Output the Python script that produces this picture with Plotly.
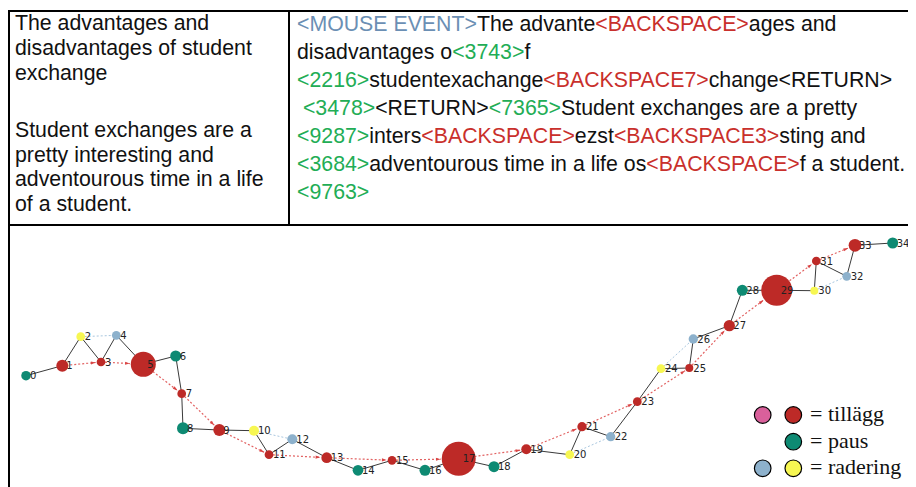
import math
import plotly.graph_objects as go

# ------------------------------------------------------------------ data
# left cell of the table (final text)
left_lines = [
    "The advantages and",
    "disadvantages of student",
    "exchange",
    "Student exchanges are a",
    "pretty interesting and",
    "adventourous time in a life",
    "of a student.",
]

# right cell of the table (keystroke log) : (text, kind)
log_line1 = [("<MOUSE EVENT>", "mouse"), ("The advante", "txt"), ("<BACKSPACE>", "del"), ("ages and", "txt")]
log_line2 = [("disadvantages o", "txt"), ("<3743>", "pause"), ("f", "txt")]
log_line3 = [("<2216>", "pause"), ("studentexachange", "txt"), ("<BACKSPACE7>", "del"), ("change<RETURN>", "txt")]
log_line4 = [("\u00a0", "txt"), ("<3478>", "pause"), ("<RETURN>", "txt"), ("<7365>", "pause"),
             ("Student exchanges are a pretty", "txt")]
log_line5 = [("<9287>", "pause"), ("inters", "txt"), ("<BACKSPACE>", "del"), ("ezst", "txt"),
             ("<BACKSPACE3>", "del"), ("sting and", "txt")]
log_line6 = [("<3684>", "pause"), ("adventourous time in a life os", "txt"), ("<BACKSPACE>", "del"),
             ("f a student.", "txt")]
log_line7 = [("<9763>", "pause")]
log_lines = [log_line1, log_line2, log_line3, log_line4, log_line5, log_line6, log_line7]

# process graph
node_id = list(range(35))
node_type = ["paus", "tillägg", "radering_y", "tillägg", "radering_b", "tillägg", "paus",
             "tillägg", "paus", "tillägg", "radering_y", "tillägg", "radering_b", "tillägg",
             "paus", "tillägg", "paus", "tillägg", "paus", "tillägg", "radering_y", "tillägg",
             "radering_b", "tillägg", "radering_y", "tillägg", "radering_b", "tillägg", "paus",
             "tillägg", "radering_y", "tillägg", "radering_b", "tillägg", "paus"]
node_x = [26.0, 62.3, 80.7, 101.0, 116.3, 143.3, 175.7, 181.7, 183.0, 219.3, 254.0, 269.0,
          292.3, 326.7, 358.0, 392.0, 425.0, 458.7, 494.0, 526.3, 569.7, 582.0, 610.7, 637.3,
          661.0, 689.3, 693.3, 729.3, 742.3, 776.7, 814.3, 816.3, 846.7, 855.0, 892.7]
node_y = [375.7, 365.7, 336.7, 362.0, 335.3, 364.3, 356.0, 393.7, 428.3, 430.0, 430.7, 454.7,
          439.3, 457.7, 470.3, 460.3, 470.3, 458.7, 466.7, 449.3, 454.7, 426.7, 436.7, 401.7,
          368.7, 368.0, 339.0, 325.7, 290.3, 290.3, 290.7, 261.0, 276.3, 245.3, 243.0]
node_weight = [9.5, 12, 8.7, 8.7, 8.7, 25, 11, 8.7, 12, 12, 10, 8.7, 10, 10.7, 10.7, 8.7, 11,
               34, 11, 10, 8.7, 9.3, 9.3, 8.7, 8.7, 8, 9.3, 11.3, 11, 31, 8, 8.7, 8.7, 12.7, 11]

seq_edges = [(0, 1), (1, 2), (2, 3), (3, 4), (4, 5), (5, 6), (6, 7), (7, 8), (8, 9), (9, 10),
             (10, 11), (11, 12), (12, 13), (13, 14), (14, 15), (15, 16), (16, 17), (17, 18),
             (18, 19), (19, 20), (20, 21), (21, 22), (22, 23), (23, 24), (24, 25), (25, 26),
             (26, 27), (27, 28), (28, 29), (29, 30), (30, 31), (31, 32), (32, 33), (33, 34)]
insert_edges = [(1, 3), (3, 5), (5, 7), (7, 9), (9, 11), (11, 13), (13, 15), (15, 17),
                (17, 19), (19, 21), (21, 23), (23, 25), (25, 27), (27, 29), (29, 31), (31, 33)]
delete_edges = [(2, 4), (10, 12), (20, 22), (24, 26), (30, 32)]

legend_labels = ["= tillägg", "= paus", "= radering"]

# ------------------------------------------------------------------ style
W, H = 916, 487
PAGE_MARGIN = 8  # default body margin of the page; compensate so content lands at window pixels
TYPE_COLOR = {"tillägg": "#bd2a27", "paus": "#0e8a73",
              "radering_b": "#8db1cc", "radering_y": "#f7f752"}
KIND_COLOR = {"mouse": "#6b8fb4", "txt": "#111111", "pause": "#22ad55", "del": "#c9302c"}
SANS = "Liberation Sans, Arial, sans-serif"
FS = 21.3


def esc(s):
    return s.replace("&", "&amp;").replace("<", "&lt;").replace(">", "&gt;")


fig = go.Figure()

# plain sequence edges
ex, ey = [], []
for a, b in seq_edges:
    ex += [node_x[a], node_x[b], None]
    ey += [node_y[a], node_y[b], None]
fig.add_trace(go.Scatter(x=ex, y=ey, mode="lines", line=dict(color="#3a3a3a", width=1),
                         hoverinfo="skip", showlegend=False))

# deletion edges (light blue dotted)
dx_, dy_ = [], []
for a, b in delete_edges:
    dx_ += [node_x[a], node_x[b], None]
    dy_ += [node_y[a], node_y[b], None]
fig.add_trace(go.Scatter(x=dx_, y=dy_, mode="lines",
                         line=dict(color="#a9c7df", width=1, dash="2px,2px"),
                         hoverinfo="skip", showlegend=False))

# insertion edges (red dotted arrows)
ix, iy, hx, hy, hang = [], [], [], [], []
for a, b in insert_edges:
    x0, y0, x1, y1 = node_x[a], node_y[a], node_x[b], node_y[b]
    L = math.hypot(x1 - x0, y1 - y0)
    ux, uy = (x1 - x0) / L, (y1 - y0) / L
    rb = node_weight[b] / 2 + 1
    tx, ty = x1 - ux * rb, y1 - uy * rb
    ix += [x0, tx, None]
    iy += [y0, ty, None]
    hx.append(tx)
    hy.append(ty)
    hang.append(math.degrees(math.atan2(ux, -uy)))
fig.add_trace(go.Scatter(x=ix, y=iy, mode="lines",
                         line=dict(color="#e26262", width=1.2, dash="2px,2px"),
                         hoverinfo="skip", showlegend=False))
fig.add_trace(go.Scatter(x=hx, y=hy, mode="markers",
                         marker=dict(symbol="arrow", size=5, angle=hang, color="#d94545",
                                     line=dict(width=0)),
                         hoverinfo="skip", showlegend=False))

# nodes
fig.add_trace(go.Scatter(x=node_x, y=node_y, mode="markers",
                         marker=dict(size=node_weight, color=[TYPE_COLOR[t] for t in node_type],
                                     line=dict(width=0), opacity=1),
                         hoverinfo="skip", showlegend=False))
# node labels
fig.add_trace(go.Scatter(x=[x + 4 for x in node_x], y=[y + 1 for y in node_y], mode="text",
                         text=[str(i) for i in node_id], textposition="middle right",
                         textfont=dict(family="DejaVu Sans", size=10, color="#222222"),
                         hoverinfo="skip", showlegend=False))

# ------------------------------------------------------------------ table
line_style = dict(color="#000000", width=2)
shapes = [
    dict(type="line", x0=8, x1=W + 10, y0=11, y1=11, line=line_style),
    dict(type="line", x0=9, x1=9, y0=10, y1=H + 10, line=line_style),
    dict(type="line", x0=289, x1=289, y0=10, y1=225, line=line_style),
    dict(type="line", x0=8, x1=W + 10, y0=225, y1=225, line=line_style),
]

annotations = []
left_y = [23, 48, 73, 130, 154.5, 179, 203.5]
for txt, yy in zip(left_lines, left_y):
    annotations.append(dict(x=13, y=yy, text=esc(txt), showarrow=False, xanchor="left",
                            yanchor="middle", font=dict(family=SANS, size=FS, color="#111111")))
for k, parts in enumerate(log_lines):
    html = "".join('<span style="color:%s">%s</span>' % (KIND_COLOR[kind], esc(t))
                   for t, kind in parts)
    annotations.append(dict(x=295, y=24 + 28 * k, text=html, showarrow=False, xanchor="left",
                            yanchor="middle", font=dict(family=SANS, size=FS, color="#111111")))

# ------------------------------------------------------------------ legend (drawn key)
legend_circles = [
    (762.7, 415.0, "#d9609b"), (793.3, 415.0, TYPE_COLOR["tillägg"]),
    (793.3, 441.7, TYPE_COLOR["paus"]),
    (762.7, 468.3, TYPE_COLOR["radering_b"]), (793.3, 468.3, TYPE_COLOR["radering_y"]),
]
R = 8.3
for cx, cy, col in legend_circles:
    shapes.append(dict(type="circle", x0=cx - R, x1=cx + R, y0=cy - R, y1=cy + R,
                       fillcolor=col, line=dict(color="#000000", width=1.2)))
for lab, yy in zip(legend_labels, [413, 440, 466.5]):
    annotations.append(dict(x=808, y=yy, text=lab, showarrow=False, xanchor="left",
                            yanchor="middle",
                            font=dict(family="Liberation Serif, Times New Roman, serif",
                                      size=22, color="#111111")))

FW, FH = W - PAGE_MARGIN, H - PAGE_MARGIN
fig.update_layout(
    width=FW, height=FH, margin=dict(l=0, r=0, t=0, b=0),
    paper_bgcolor="white", plot_bgcolor="white",
    xaxis=dict(range=[PAGE_MARGIN, W], visible=False, fixedrange=True),
    yaxis=dict(range=[H, PAGE_MARGIN], visible=False, fixedrange=True),
    shapes=shapes, annotations=annotations, showlegend=False,
)
fig.write_html("out.html")
